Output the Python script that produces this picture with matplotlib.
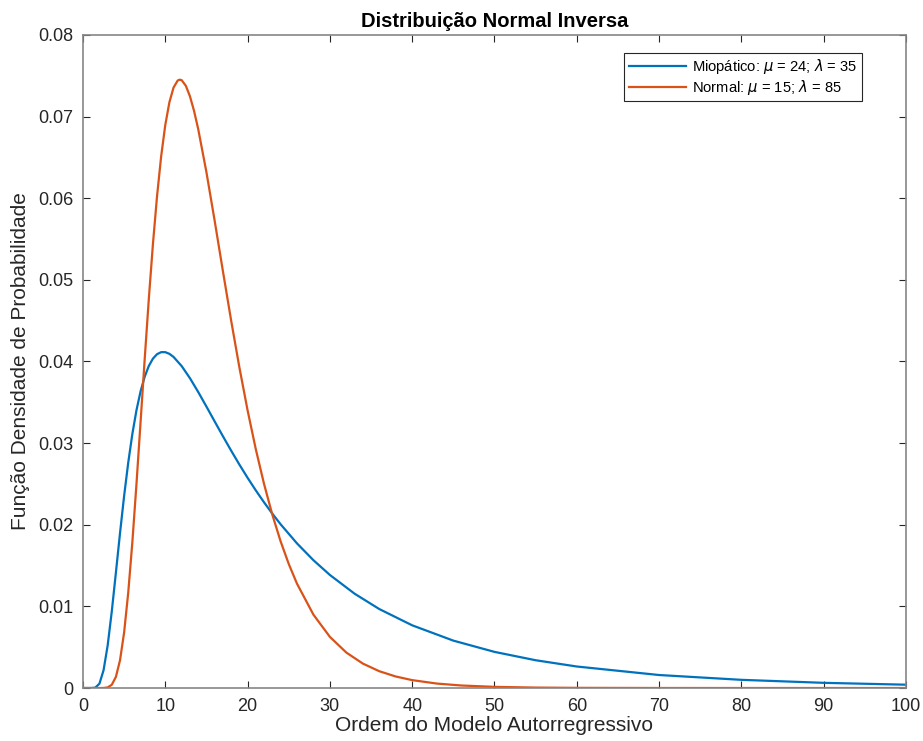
import matplotlib.pyplot as plt
from matplotlib.ticker import FuncFormatter, MultipleLocator

# Inverse-Gaussian density curves, sampled values
miop_x = [0, 1, 1.5, 2, 2.5, 3, 3.5, 4, 4.5, 5, 5.5, 6, 6.5, 7, 7.5, 8, 8.5,
          9, 9.5, 10, 10.5, 11, 12, 13, 14, 15, 16, 17, 18, 19, 20, 21, 22,
          23, 24, 26, 28, 30, 33, 36, 40, 45, 50, 55, 60, 70, 80, 90, 100]
miop_y = [0.0, 0.0000003, 0.000045, 0.000534, 0.00217, 0.005219, 0.009386,
          0.014134, 0.018977, 0.02354, 0.027622, 0.03113, 0.034034, 0.036349,
          0.038142, 0.039456, 0.040352, 0.040899, 0.041145, 0.041144,
          0.040939, 0.040563, 0.039428, 0.037949, 0.036266, 0.034479,
          0.032658, 0.03085, 0.029084, 0.02738, 0.025753, 0.024207, 0.022746,
          0.021369, 0.020074, 0.01772, 0.015656, 0.01385, 0.011556, 0.009676,
          0.007681, 0.005805, 0.004427, 0.003403, 0.002635, 0.001592,
          0.001003, 0.000635, 0.000408]

norm_x = [0, 2, 2.5, 3, 3.5, 4, 4.5, 5, 5.5, 6, 6.5, 7, 7.5, 8, 8.5, 9, 9.5,
          10, 10.5, 11, 11.5, 11.75, 12, 12.5, 13, 13.5, 14, 15, 16, 17, 18,
          19, 20, 21, 22, 23, 24, 25, 26, 28, 30, 32, 34, 36, 38, 40, 43, 46,
          50, 55, 60, 70, 80, 90, 100]
norm_y = [0.0, 0.0, 0.0000066, 0.0000725, 0.000399, 0.001361, 0.003397,
          0.006817, 0.011698, 0.017876, 0.024996, 0.032618, 0.040309, 0.047673,
          0.054396, 0.060262, 0.065144, 0.068972, 0.071757, 0.073546, 0.074412,
          0.074527, 0.074452, 0.073771, 0.072479, 0.070681, 0.068474, 0.06319,
          0.057239, 0.051078, 0.045029, 0.039299, 0.034019, 0.029245, 0.024997,
          0.021261, 0.018008, 0.0152, 0.012789, 0.008987, 0.006266, 0.004342,
          0.002996, 0.002059, 0.001412, 0.000966, 0.000545, 0.000307,
          0.000142, 0.0000544, 0.0000208, 0.0000025, 0.0000003, 0.0, 0.0]

labels = [r"Miopático: $\mu$ = 24; $\lambda$ = 35",
          r"Normal: $\mu$ = 15; $\lambda$ = 85"]

plt.rcParams["font.family"] = ["Liberation Sans", "DejaVu Sans"]
plt.rcParams["mathtext.fontset"] = "dejavusans"

fig = plt.figure(figsize=(9.23, 7.41), dpi=100)
ax = fig.add_axes([0.0899, 0.0715, 0.8917, 0.8813])

ax.plot(miop_x, miop_y, color="#0072BD", lw=1.6, label=labels[0])
ax.plot(norm_x, norm_y, color="#D95319", lw=1.6, label=labels[1])

ax.set_xlim(0, 100)
ax.set_ylim(0, 0.08)
ax.xaxis.set_major_locator(MultipleLocator(10))
ax.yaxis.set_major_locator(MultipleLocator(0.01))
ax.yaxis.set_major_formatter(FuncFormatter(lambda v, _: f"{v:g}"))

for side in ax.spines.values():
    side.set_color("#868686")
    side.set_linewidth(1.2)
ax.tick_params(direction="in", top=True, right=True, length=5, width=0.8,
               color="#262626", labelsize=13, labelcolor="#262626", pad=7)

ax.set_title("Distribuição Normal Inversa", fontsize=14.5, fontweight="bold",
             pad=6)
ax.set_xlabel("Ordem do Modelo Autorregressivo", fontsize=15,
              color="#262626", labelpad=1)
ax.set_ylabel("Função Densidade de Probabilidade", fontsize=15,
              color="#262626", labelpad=6)

leg = ax.legend(loc="upper right", bbox_to_anchor=(0.9465, 0.9724),
                fontsize=10.6, handlelength=3.9, handletextpad=0.4,
                borderpad=0.3, labelspacing=0.1, fancybox=False,
                framealpha=1, borderaxespad=0)
leg.get_frame().set_edgecolor("#262626")
leg.get_frame().set_linewidth(0.8)

fig.savefig("out.png", dpi=100)
